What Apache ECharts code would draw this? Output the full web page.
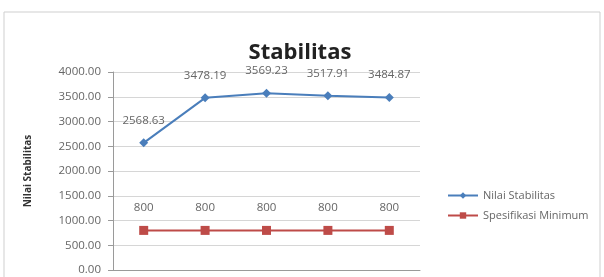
<!DOCTYPE html>
<html>
<head>
<meta charset="utf-8">
<script src="https://cdn.jsdelivr.net/npm/echarts@6/dist/echarts.min.js"></script>
<style>
html, body { margin: 0; padding: 0; background: #fff; }
#main { width: 604px; height: 277px; }
</style>
</head>
<body>
<div id="main"></div>
<script>
var categories = ['1', '2', '3', '4', '5'];
var nilaiStabilitas = [2568.63, 3478.19, 3569.23, 3517.91, 3484.87];
var spesifikasiMinimum = [800, 800, 800, 800, 800];

var myChart = echarts.init(document.getElementById('main'));
var option = {
    animation: false,
    backgroundColor: '#fff',
    textStyle: { fontFamily: 'Open Sans' },
    graphic: [{
        type: 'rect',
        shape: { x: 4, y: 12, width: 596, height: 280 },
        style: { fill: 'none', stroke: '#cfcfcf', lineWidth: 1 }
    }],
    title: {
        text: 'Stabilitas',
        left: 295, top: 37,
        textAlign: 'center',
        textStyle: { fontSize: 22, fontWeight: 'bold', color: '#222', fontFamily: 'Open Sans' }
    },
    legend: {
        orient: 'vertical',
        left: 442, top: 185,
        itemGap: 9,
        itemWidth: 30, itemHeight: 8,
        textStyle: { fontSize: 11, color: '#666' },
        data: ['Nilai Stabilitas', 'Spesifikasi Minimum']
    },
    grid: { left: 113, right: 184, top: 72, bottom: 7 },
    xAxis: {
        type: 'category',
        data: categories,
        axisLine: { lineStyle: { color: '#9a9a9a' } },
        axisTick: { show: false },
        axisLabel: { show: false }
    },
    yAxis: {
        type: 'value',
        min: 0, max: 4000, interval: 500,
        name: 'Nilai Stabilitas',
        nameLocation: 'middle',
        nameGap: 80,
        nameTextStyle: { fontSize: 10, fontWeight: 'bold', color: '#333' },
        axisLine: { show: true, lineStyle: { color: '#9a9a9a' } },
        axisTick: { show: true, length: 5, lineStyle: { color: '#9a9a9a' } },
        axisLabel: {
            fontSize: 11.5, color: '#666', margin: 12,
            formatter: function (v) { return v.toFixed(2); }
        },
        splitLine: { lineStyle: { color: '#d6d6d6' } }
    },
    series: [
        {
            name: 'Nilai Stabilitas',
            type: 'line',
            data: nilaiStabilitas,
            symbol: 'diamond',
            symbolSize: 9,
            itemStyle: { color: '#4a7ebb' },
            lineStyle: { color: '#4a7ebb', width: 2 },
            label: {
                show: true, position: 'top', distance: 12,
                fontSize: 11.5, color: '#666',
                formatter: function (p) { return p.value.toFixed(2); }
            }
        },
        {
            name: 'Spesifikasi Minimum',
            type: 'line',
            data: spesifikasiMinimum,
            symbol: 'rect',
            symbolSize: 9,
            itemStyle: { color: '#be4b48' },
            lineStyle: { color: '#be4b48', width: 2 },
            label: {
                show: true, position: 'top', distance: 12,
                fontSize: 11.5, color: '#666'
            }
        }
    ]
};
myChart.setOption(option);
</script>
</body>
</html>
